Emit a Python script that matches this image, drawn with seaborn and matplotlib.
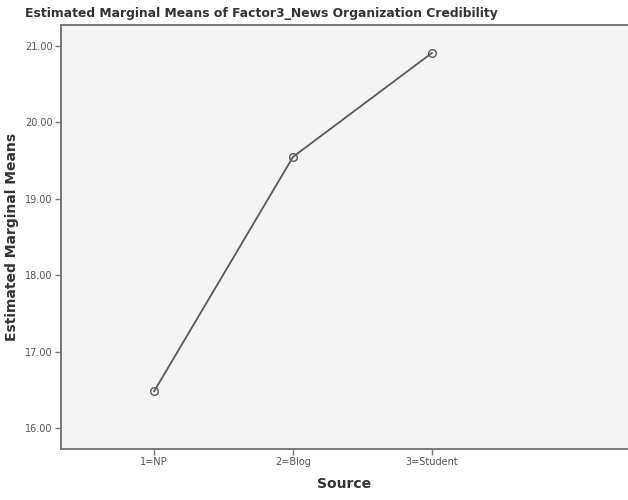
import pandas as pd
import seaborn as sns
import matplotlib.pyplot as plt

# Data
sources = ['1=NP', '2=Blog', '3=Student']
means = [16.48, 19.55, 20.91]

df = pd.DataFrame({'Source': sources, 'Mean': means})

sns.set_style('white')
plt.rcParams['font.family'] = ['DejaVu Sans']

fig = plt.figure(figsize=(6.28, 5.0), dpi=100)
ax = fig.add_axes([61 / 628, 51 / 500, (628 - 61) / 628, 424 / 500])
ax.set_facecolor('#f4f4f4')

sns.pointplot(data=df, x='Source', y='Mean', errorbar=None, ax=ax,
              color='#5a5a5a', markers='o', linestyles='-',
              markersize=5.5, markerfacecolor='none', markeredgewidth=1.0,
              linewidth=1.3)

ax.set_xlim(-0.67, 3.41)
ax.set_ylim(15.725, 21.275)
ax.set_yticks([16, 17, 18, 19, 20, 21])
ax.set_yticklabels([f'{v:.2f}' for v in [16, 17, 18, 19, 20, 21]])

for side in ['left', 'bottom', 'top']:
    ax.spines[side].set_color('#777777')
    ax.spines[side].set_linewidth(1.4)
ax.spines['right'].set_visible(False)

ax.tick_params(axis='both', direction='out', length=4, width=1,
               color='#777777', labelsize=7, labelcolor='#555555', pad=2)
ax.tick_params(left=True, bottom=True)

ax.set_xlabel('Source', fontsize=10, fontweight='bold', color='#333333', labelpad=7)
ax.set_ylabel('Estimated Marginal Means', fontsize=10, fontweight='bold',
              color='#333333', labelpad=4)
fig.text(0.04, 0.972, 'Estimated Marginal Means of Factor3_News Organization Credibility',
         fontsize=8.9, fontweight='bold', color='#333333', va='center', ha='left')

plt.savefig('out.png', dpi=100)
